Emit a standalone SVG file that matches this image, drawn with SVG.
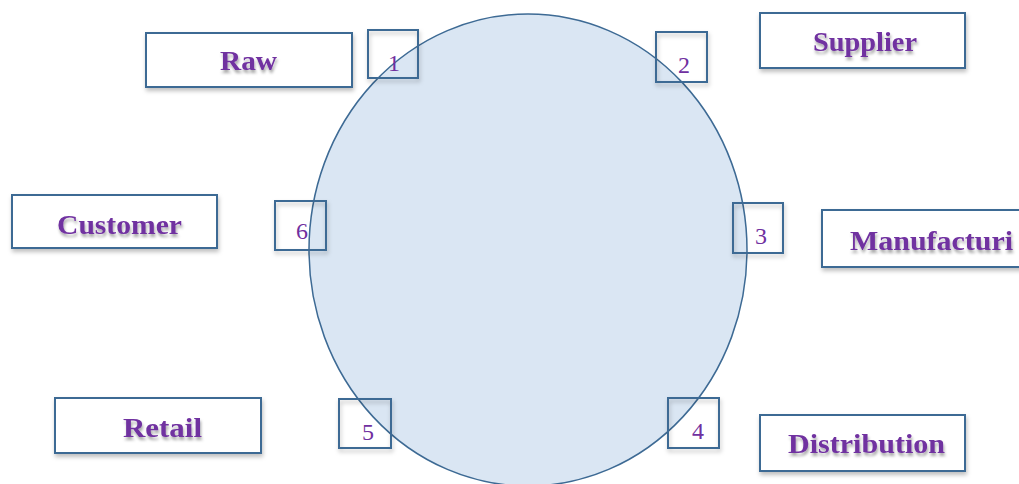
<svg xmlns="http://www.w3.org/2000/svg" width="1019" height="484" viewBox="0 0 1019 484">
<defs>
<filter id="sh" x="-20%" y="-20%" width="140%" height="160%"><feDropShadow dx="1" dy="3" stdDeviation="2" flood-color="#000" flood-opacity="0.25"/></filter>
<filter id="tsh" x="-20%" y="-40%" width="140%" height="200%"><feDropShadow dx="1" dy="3" stdDeviation="1.6" flood-color="#000" flood-opacity="0.35"/></filter>
</defs>
<style>
.lbl{fill:#fff;stroke:#3d6a94;stroke-width:2;filter:url(#sh)}
.num{fill:none;stroke:#3d6a94;stroke-width:2;filter:url(#sh)}
.lt{font-family:"Liberation Serif",serif;font-weight:bold;font-size:27px;fill:#7030a0;filter:url(#tsh)}
.nt{font-family:"Liberation Serif",serif;font-size:24px;fill:#7030a0;text-anchor:middle}
</style>
<g id="circle"><ellipse cx="528" cy="250" rx="219" ry="236" fill="#dae6f3" stroke="#3d6a94" stroke-width="1.5"/></g>
<g id="connectors"></g>
<g id="raw"><rect class="lbl" x="146" y="33" width="206" height="54"/><text class="lt" x="220" y="70" textLength="57" lengthAdjust="spacingAndGlyphs">Raw</text></g>
<g id="supplier"><rect class="lbl" x="760" y="13" width="205" height="55"/><text class="lt" x="813" y="51" textLength="104" lengthAdjust="spacingAndGlyphs">Supplier</text></g>
<g id="customer"><rect class="lbl" x="12" y="195" width="205" height="53"/><text class="lt" x="57" y="234" textLength="125" lengthAdjust="spacingAndGlyphs">Customer</text></g>
<g id="manufacturing"><rect class="lbl" x="822" y="210" width="210" height="57"/><text class="lt" x="850" y="250" textLength="163" lengthAdjust="spacingAndGlyphs">Manufacturi</text></g>
<g id="retail"><rect class="lbl" x="55" y="398" width="206" height="55"/><text class="lt" x="123" y="437" textLength="79" lengthAdjust="spacingAndGlyphs">Retail</text></g>
<g id="distribution"><rect class="lbl" x="760" y="415" width="205" height="56"/><text class="lt" x="788" y="453" textLength="157" lengthAdjust="spacingAndGlyphs">Distribution</text></g>
<g id="n1"><rect class="num" x="368" y="30" width="50" height="48"/><text class="nt" x="394" y="71">1</text></g>
<g id="n2"><rect class="num" x="656" y="32" width="51" height="50"/><text class="nt" x="684" y="73">2</text></g>
<g id="n3"><rect class="num" x="733" y="203" width="50" height="50"/><text class="nt" x="761" y="244">3</text></g>
<g id="n4"><rect class="num" x="668" y="398" width="51" height="50"/><text class="nt" x="698" y="439">4</text></g>
<g id="n5"><rect class="num" x="339" y="399" width="52" height="49"/><text class="nt" x="368" y="440">5</text></g>
<g id="n6"><rect class="num" x="275" y="201" width="51" height="49"/><text class="nt" x="302" y="239">6</text></g>
</svg>
